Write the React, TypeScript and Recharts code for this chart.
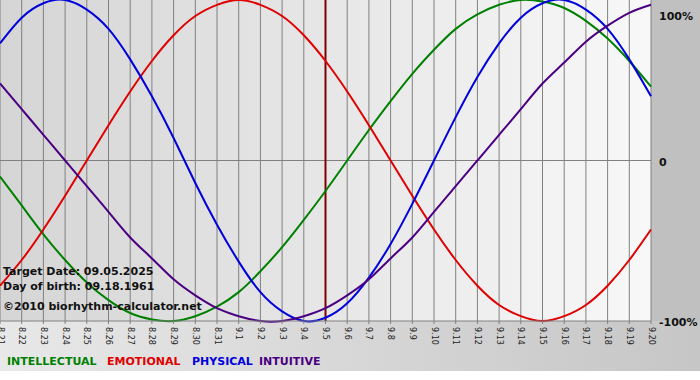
import { LineChart, Line, XAxis, YAxis, CartesianGrid, ReferenceLine } from 'recharts';

// calendar days shown on the axis (target day 9.5 sits in the middle)
const days = [
    '8.21', '8.22', '8.23', '8.24', '8.25', '8.26', '8.27', '8.28', '8.29', '8.30', '8.31',
    '9.1', '9.2', '9.3', '9.4', '9.5', '9.6', '9.7', '9.8', '9.9', '9.10',
    '9.11', '9.12', '9.13', '9.14', '9.15', '9.16', '9.17', '9.18', '9.19', '9.20',
];

// cycle values in percent, one per day
const intellectual = [-10, -28, -46, -62, -76, -87, -95, -99, -100, -97, -91, -82, -69, -54, -37, -19, 0, 19, 37, 54, 69, 82, 91, 97, 100, 99, 95, 87, 76, 62, 46];
const emotional = [-78, -62, -43, -22, 0, 22, 43, 62, 78, 90, 97, 100, 97, 90, 78, 62, 43, 22, 0, -22, -43, -62, -78, -90, -97, -100, -97, -90, -78, -62, -43];
const physical = [73, 89, 98, 100, 94, 82, 63, 40, 14, -14, -40, -63, -82, -94, -100, -98, -89, -73, -52, -27, 0, 27, 52, 73, 89, 98, 100, 94, 82, 63, 40];
const intuitive = [48, 32, 16, 0, -16, -32, -48, -61, -74, -84, -92, -97, -100, -100, -97, -92, -84, -74, -61, -48, -32, -16, 0, 16, 32, 48, 61, 74, 84, 92, 97];

const targetIndex = 15;
const levelTicks = [-100, 0, 100];
const levelLabels: Record<number, string> = { 100: '100%', 0: '0', [-100]: '-100%' };

const series = [
    { key: 'intellectual', name: 'INTELLECTUAL', color: '#008000', legendX: 7 },
    { key: 'emotional', name: 'EMOTIONAL', color: '#e00000', legendX: 107 },
    { key: 'physical', name: 'PHYSICAL', color: '#0000dd', legendX: 192 },
    { key: 'intuitive', name: 'INTUITIVE', color: '#4b0082', legendX: 259 },
];

const data = days.map((day, i) => ({
    i,
    day,
    intellectual: intellectual[i],
    emotional: emotional[i],
    physical: physical[i],
    intuitive: intuitive[i],
}));

const font = '"DejaVu Sans", Verdana, sans-serif';

const DayTick = (props: any) => {
    const { x, y, payload } = props;
    return (
        <text
            transform={`translate(${x},${y + 1}) rotate(90)`}
            textAnchor="start"
            dominantBaseline="central"
            fontSize={8}
            fontFamily={font}
            fill="#222"
        >
            {days[payload.value]}
        </text>
    );
};

const LevelTick = (props: any) => {
    const { x, y, payload } = props;
    const dy = payload.value === 100 ? 11 : 5;
    return (
        <text x={x} y={y + dy} textAnchor="start" fontSize={11} fontWeight="bold" fontFamily={font} fill="#111">
            {levelLabels[payload.value]}
        </text>
    );
};

export default function App() {
    return (
        <div style={{ position: 'absolute', left: 0, top: 0, width: 700, height: 380, background: '#fff' }}>
            <div
                style={{
                    position: 'absolute', left: 0, top: 0, width: 700, height: 371,
                    background: 'linear-gradient(to right, #e8e8e8, #c6c6c6)',
                }}
            />
            <div style={{ position: 'absolute', left: 651, top: 0, width: 49, height: 321, background: '#c0c0c0' }} />

            <div style={{ position: 'absolute', left: 0, top: 0 }}>
                <LineChart width={700} height={380} data={data} margin={{ top: 0, right: 0, bottom: 29, left: 0 }}>
                    <defs>
                        <linearGradient id="plotBg" x1="0" y1="0" x2="1" y2="0">
                            <stop offset="0%" stopColor="#d5d5d5" />
                            <stop offset="100%" stopColor="#f8f8f8" />
                        </linearGradient>
                    </defs>
                    <CartesianGrid horizontal={false} stroke="#808080" fill="url(#plotBg)" />
                    <XAxis
                        type="number"
                        dataKey="i"
                        domain={[0, days.length - 1]}
                        ticks={days.map((_, i) => i)}
                        interval={0}
                        height={30}
                        tickSize={3}
                        tickMargin={2}
                        stroke="#808080"
                        tick={<DayTick />}
                    />
                    <YAxis
                        orientation="right"
                        domain={[-100, 100]}
                        ticks={levelTicks}
                        width={49}
                        axisLine={false}
                        tickLine={false}
                        tickSize={0}
                        tickMargin={8}
                        tick={<LevelTick />}
                    />
                    <ReferenceLine y={0} stroke="#808080" />
                    <ReferenceLine x={targetIndex} stroke="#800000" strokeWidth={2} />
                    {series.map((s) => (
                        <Line
                            key={s.key}
                            type="natural"
                            dataKey={s.key}
                            stroke={s.color}
                            strokeWidth={2}
                            dot={false}
                            activeDot={false}
                            isAnimationActive={false}
                        />
                    ))}
                </LineChart>
            </div>

            <div style={{ position: 'absolute', left: 3, top: 264, fontFamily: font, fontWeight: 'bold', fontSize: 11, color: '#111', lineHeight: '15px' }}>
                <div>Target Date: 09.05.2025</div>
                <div>Day of birth: 09.18.1961</div>
                <div style={{ marginTop: 5 }}>©2010 biorhythm-calculator.net</div>
            </div>

            {series.map((s) => (
                <div
                    key={s.key}
                    style={{
                        position: 'absolute', left: s.legendX, top: 355, fontFamily: font, fontWeight: 'bold',
                        fontSize: 11, color: s.color, whiteSpace: 'nowrap',
                    }}
                >
                    {s.name}
                </div>
            ))}
        </div>
    );
}
